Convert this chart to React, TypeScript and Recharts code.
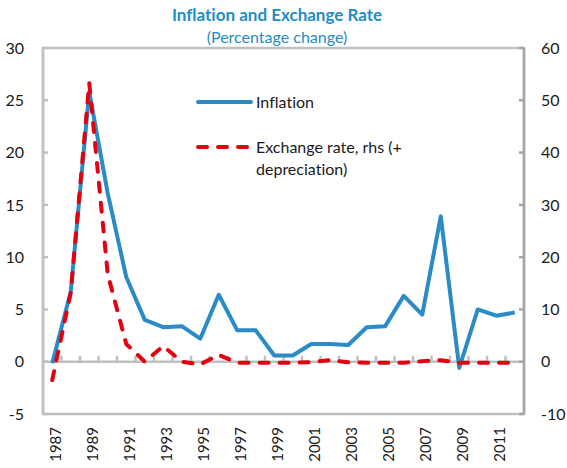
import React from 'react';
import { LineChart, Line, XAxis, YAxis, ReferenceLine, ReferenceArea, Legend } from 'recharts';

const years = ['1987','1988','1989','1990','1991','1992','1993','1994','1995','1996','1997','1998','1999','2000','2001','2002','2003','2004','2005','2006','2007','2008','2009','2010','2011','2012'];
const inflation = [-0.15, 6.7, 25.8, 16.1, 8.1, 4.0, 3.3, 3.4, 2.2, 6.4, 3.0, 3.0, 0.6, 0.6, 1.7, 1.7, 1.6, 3.3, 3.4, 6.3, 4.5, 13.9, -0.6, 5.0, 4.4, 4.7];
const exchangeRate = [-3.5, 13.2, 53.3, 16.7, 3.4, 0.0, 3.0, 0.0, -0.5, 1.3, -0.2, -0.2, -0.2, -0.2, -0.1, 0.3, -0.1, -0.2, -0.2, -0.2, 0.1, 0.3, -0.2, -0.2, -0.2, -0.2];
const leftTicks = [-5, 0, 5, 10, 15, 20, 25, 30];
const rightTicks = [-10, 0, 10, 20, 30, 40, 50, 60];
const legendOrder = ['inflation', 'exchange'];

const LEFT_MIN = -5;
const LEFT_MAX = 30;
const BLUE = '#2a8bc6';
const RED = '#e3000f';
const TITLE = '#1f8dc6';
const GRID = '#c0c0c0';
const FONT = 'Lato, "Noto Sans", sans-serif';

const data = years.map((year, i) => ({ year, inflation: inflation[i], exchange: exchangeRate[i] }));

const XTick = (props: any) => {
  const { x, y, payload } = props;
  const tx = x + 3;
  return (
    <text x={tx} y={y} transform={`rotate(-90, ${tx}, ${y})`} textAnchor="end" dy="0.35em"
      fontFamily={FONT} fontSize={15} fill="#1a1a1a">{payload.value}</text>
  );
};

const ZeroTick = (props: any) => {
  const { x1, y1, y2 } = props;
  const top = Math.min(y1, y2);
  const h = Math.abs(y2 - y1);
  const zy = top + (LEFT_MAX / (LEFT_MAX - LEFT_MIN)) * h;
  return <line x1={x1} x2={x1} y1={zy} y2={zy - 6} stroke={GRID} strokeWidth={2.5} />;
};

const renderLegend = (props: any) => {
  const payload = [...(props.payload || [])].sort(
    (a: any, b: any) => legendOrder.indexOf(a.dataKey) - legendOrder.indexOf(b.dataKey)
  );
  return (
    <div style={{ fontFamily: FONT, fontSize: 16, color: '#1a1a1a', fontVariantLigatures: 'none' }}>
      {payload.map((entry: any, i: number) => {
        const dashed = entry.dataKey === 'exchange';
        return (
          <div key={i} style={{ display: 'flex', alignItems: 'flex-start', marginBottom: i === 0 ? 23 : 0 }}>
            <svg width={58} height={22} style={{ flex: 'none' }}>
              <line x1={2} y1={11} x2={55} y2={11} stroke={entry.color} strokeWidth={4}
                strokeLinecap="round" strokeDasharray={dashed ? '9 11' : undefined} />
            </svg>
            <span style={{ marginLeft: 2, lineHeight: '22px', width: 170, whiteSpace: 'normal' }}>{entry.value}</span>
          </div>
        );
      })}
    </div>
  );
};

export default function App() {
  return (
    <div style={{ position: 'absolute', left: 0, top: 0, width: 567, height: 468, background: '#fff', fontVariantLigatures: 'none' }}>
      <div style={{ position: 'absolute', left: 0, top: 4, width: 554, textAlign: 'center', fontFamily: FONT, fontWeight: 700, fontSize: 17, color: TITLE, lineHeight: '22px' }}>
        Inflation and Exchange Rate
      </div>
      <div style={{ position: 'absolute', left: 0, top: 27, width: 554, textAlign: 'center', fontFamily: FONT, fontSize: 16, color: TITLE, lineHeight: '20px' }}>
        (Percentage change)
      </div>
      <LineChart width={567} height={468} data={data} margin={{ top: 48, right: 0, bottom: 0, left: 0 }}>
        <ReferenceArea yAxisId="left" y1={LEFT_MIN} y2={LEFT_MAX} fill="none" stroke={GRID} strokeWidth={2.5} />
        <XAxis dataKey="year" scale="band" interval={1} height={54} tickLine={false} axisLine={false}
          tickSize={6} tickMargin={7} tick={<XTick />} />
        <YAxis yAxisId="left" orientation="left" width={43} domain={[LEFT_MIN, LEFT_MAX]} ticks={leftTicks}
          interval={0} allowDataOverflow tickSize={-5} tickMargin={24}
          axisLine={{ stroke: GRID, strokeWidth: 2.5 }} tickLine={{ stroke: GRID, strokeWidth: 2.5 }}
          tick={{ fontFamily: FONT, fontSize: 16, fill: '#1a1a1a' }} />
        <YAxis yAxisId="right" orientation="right" width={43} domain={[-10, 60]} ticks={rightTicks}
          interval={0} allowDataOverflow tickSize={-5} tickMargin={22}
          axisLine={{ stroke: '#a6a6a6', strokeWidth: 2.5 }} tickLine={{ stroke: '#a6a6a6', strokeWidth: 2.5 }}
          tick={{ fontFamily: FONT, fontSize: 16, fill: '#1a1a1a', textAnchor: 'start' }} />
        <ReferenceLine yAxisId="left" y={0} stroke={GRID} strokeWidth={2.5} />
        {years.slice(1).map((yr) => (
          <ReferenceLine key={yr} yAxisId="left" x={yr} position="start" shape={<ZeroTick />} />
        ))}
        <Legend layout="vertical" align="center" verticalAlign="middle" content={renderLegend}
          wrapperStyle={{ left: 196, top: 91, width: 260, bottom: 'auto', right: 'auto' }} />
        <Line yAxisId="left" type="linear" dataKey="inflation" name="Inflation" stroke={BLUE} strokeWidth={4}
          strokeLinejoin="round" dot={false} activeDot={false} isAnimationActive={false} />
        <Line yAxisId="right" type="linear" dataKey="exchange" name="Exchange rate, rhs (+ depreciation)" stroke={RED}
          strokeWidth={4} strokeDasharray="9 11" strokeLinecap="round" strokeLinejoin="round" dot={false}
          activeDot={false} isAnimationActive={false} />
      </LineChart>
    </div>
  );
}
